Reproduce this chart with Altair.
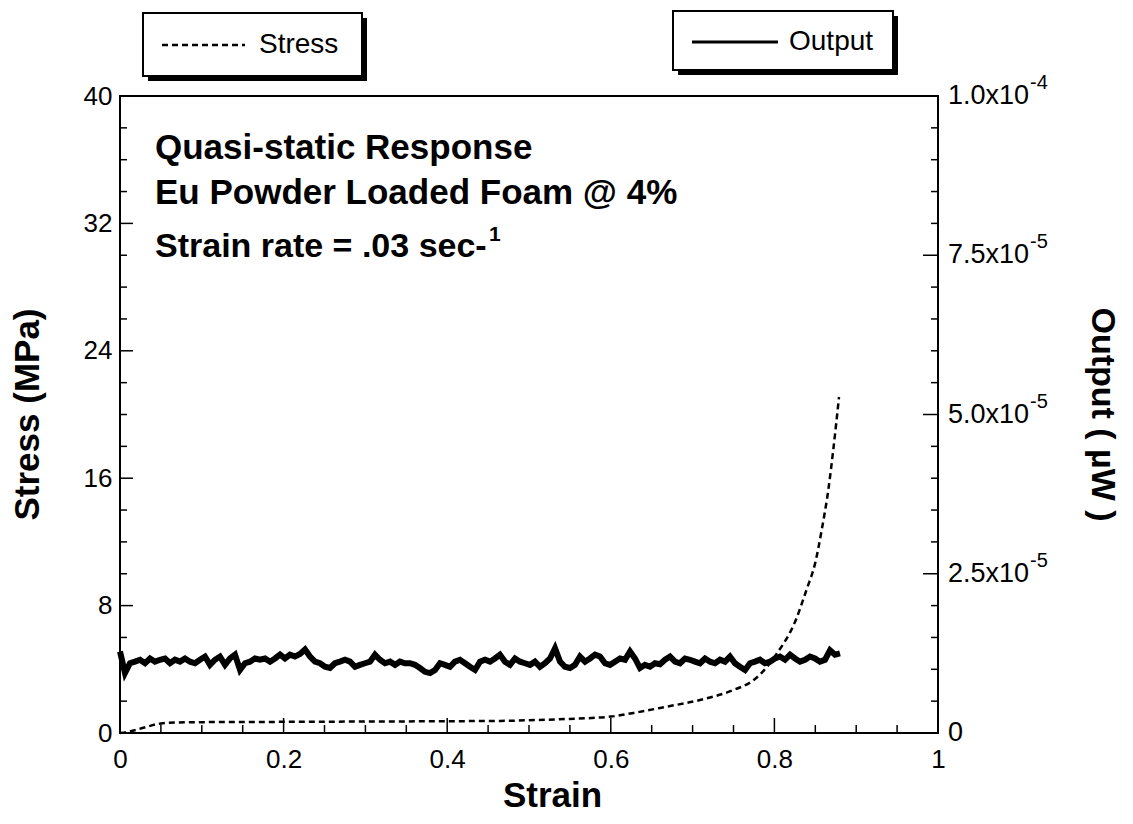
import altair as alt
import pandas as pd

# ---------------- data ----------------
# Output (µW) trace, values in units of 1e-6 µW
strain_out = [
    0.0000, 0.0061, 0.0122, 0.0183, 0.0245, 0.0306, 0.0367, 0.0428, 0.0489, 0.0550,
    0.0611, 0.0672, 0.0733, 0.0795, 0.0856, 0.0917, 0.0978, 0.1039, 0.1100, 0.1161,
    0.1222, 0.1284, 0.1345, 0.1406, 0.1467, 0.1528, 0.1589, 0.1650, 0.1711, 0.1773,
    0.1834, 0.1895, 0.1956, 0.2017, 0.2078, 0.2139, 0.2200, 0.2262, 0.2323, 0.2384,
    0.2445, 0.2506, 0.2567, 0.2628, 0.2689, 0.2751, 0.2812, 0.2873, 0.2934, 0.2995,
    0.3056, 0.3117, 0.3178, 0.3240, 0.3301, 0.3362, 0.3423, 0.3484, 0.3545, 0.3606,
    0.3667, 0.3729, 0.3790, 0.3851, 0.3912, 0.3973, 0.4034, 0.4095, 0.4156, 0.4218,
    0.4279, 0.4340, 0.4401, 0.4462, 0.4523, 0.4584, 0.4645, 0.4707, 0.4768, 0.4829,
    0.4890, 0.4951, 0.5012, 0.5073, 0.5134, 0.5196, 0.5257, 0.5318, 0.5379, 0.5440,
    0.5501, 0.5562, 0.5623, 0.5685, 0.5746, 0.5807, 0.5868, 0.5929, 0.5990, 0.6051,
    0.6112, 0.6174, 0.6235, 0.6296, 0.6357, 0.6418, 0.6479, 0.6540, 0.6601, 0.6663,
    0.6724, 0.6785, 0.6846, 0.6907, 0.6968, 0.7029, 0.7090, 0.7152, 0.7213, 0.7274,
    0.7335, 0.7396, 0.7457, 0.7518, 0.7579, 0.7641, 0.7702, 0.7763, 0.7824, 0.7885,
    0.7946, 0.8007, 0.8068, 0.8130, 0.8191, 0.8252, 0.8313, 0.8374, 0.8435, 0.8496,
    0.8557, 0.8619, 0.8680, 0.8741, 0.8802,
]
output_e6 = [
    12.8, 9.4, 10.95, 11.2, 11.5, 10.95, 11.7, 11.2, 11.5, 11.7,
    10.95, 11.5, 11.2, 11.7, 11.2, 10.95, 11.5, 12.0, 10.7, 11.5,
    12.0, 10.7, 11.7, 12.3, 9.9, 10.95, 11.2, 11.7, 11.5, 11.7,
    11.2, 11.7, 12.3, 11.7, 12.3, 12.0, 12.4,
    13.1, 12.0, 11.2, 10.95, 10.4, 10.2, 10.95, 11.2, 11.5, 11.2,
    10.4, 10.7, 10.95, 11.2, 12.3, 11.5, 10.95, 11.2, 10.7, 11.2,
    10.95, 10.95, 10.7, 10.2, 9.6, 9.4, 9.9, 10.95, 10.7, 10.4,
    11.2, 11.5, 10.95, 10.4, 9.9, 11.2,
    11.5, 11.2, 11.7, 12.3, 11.2, 10.7, 11.7, 11.2, 10.95, 10.7,
    11.2, 10.4, 10.95, 11.7, 13.3, 11.2, 10.4, 10.2, 10.7, 12.0,
    11.2, 11.7, 12.3, 12.0, 10.95, 10.7, 11.2, 11.7, 11.5, 12.8,
    11.7, 10.2, 10.7, 10.4, 10.95, 10.8,
    11.5, 12.0, 11.2, 10.95, 11.7, 11.5, 11.2, 10.95, 11.7, 11.2,
    10.95, 11.5, 11.2, 12.0, 10.95, 10.4, 9.9, 10.95, 11.2, 11.5,
    10.95, 11.2, 11.7, 12.0, 11.5, 12.3, 11.7, 11.2, 11.5, 12.0,
    11.7, 11.2, 11.5, 13.0, 12.3, 12.5,
]

# Stress (MPa) curve
strain_s = [0.0, 0.012, 0.03, 0.05, 0.07, 0.1, 0.2, 0.3, 0.4, 0.465, 0.5, 0.546,
            0.6, 0.628, 0.668, 0.709, 0.75, 0.774, 0.791, 0.803, 0.811, 0.819,
            0.827, 0.834, 0.84, 0.85, 0.858, 0.866, 0.872, 0.879]
stress_v = [0.0, 0.1, 0.35, 0.6, 0.66, 0.68, 0.7, 0.72, 0.74, 0.76, 0.8, 0.88,
            1.03, 1.26, 1.65, 2.07, 2.7, 3.3, 4.15, 5.0, 5.6, 6.3,
            7.2, 8.2, 9.1, 10.7, 12.8, 15.3, 17.8, 21.1]

# axis ticks / labels
x_labels = [0, 0.2, 0.4, 0.6, 0.8, 1]
x_major = [0.2, 0.4, 0.6, 0.8]
x_minor = [0.05, 0.1, 0.15, 0.25, 0.3, 0.35, 0.45, 0.5, 0.55, 0.65, 0.7, 0.75, 0.85, 0.9, 0.95]
left_labels = [0, 8, 16, 24, 32, 40]
left_major = [8, 16, 24, 32]
left_minor = [2, 4, 6, 10, 12, 14, 18, 20, 22, 26, 28, 30, 34, 36, 38]
right_vals = [0, 2.5e-5, 5.0e-5, 7.5e-5, 1.0e-4]
right_base = ["0", "2.5x10", "5.0x10", "7.5x10", "1.0x10"]
right_sup = ["", "-5", "-5", "-5", "-4"]
right_major = [2.5e-5, 5.0e-5, 7.5e-5]
right_minor = [5e-6, 1e-5, 1.5e-5, 2e-5, 3e-5, 3.5e-5, 4e-5, 4.5e-5,
               5.5e-5, 6e-5, 6.5e-5, 7e-5, 8e-5, 8.5e-5, 9e-5, 9.5e-5]

# ---------------- chart ----------------
W, H = 818, 637
FONT = "Liberation Sans"

xs = alt.Scale(domain=[0, 1], nice=False, zero=False)
ys = alt.Scale(domain=[0, 40], nice=False)
yo = alt.Scale(domain=[0, 1e-4], nice=False)

x_axis = alt.Axis(
    values=x_labels, format="~g", ticks=False, tickSize=0, domain=False, grid=False,
    labelFlush=False, labelOverlap=False,
    labelFont=FONT, labelFontSize=26, labelColor="black", labelPadding=13,
    title="Strain", titleFont=FONT, titleFontSize=35, titleFontWeight="bold",
    titleColor="black", titleX=432, titleY=73, titleAlign="center",
    titleBaseline="alphabetic")
y_axis = alt.Axis(
    orient="left", values=left_labels, ticks=False, tickSize=0, domain=False, grid=False,
    labelFlush=False, labelOverlap=False,
    labelFont=FONT, labelFontSize=26, labelColor="black", labelPadding=8,
    title="Stress (MPa)", titleFont=FONT, titleFontSize=35, titleFontWeight="bold",
    titleColor="black", titleX=-93, titleY=318, titleAngle=-90, titleAlign="center",
    titleBaseline="middle")

stress_df = pd.DataFrame({"strain": strain_s, "stress": stress_v})
out_df = pd.DataFrame({"strain": strain_out, "output": [v * 1e-6 for v in output_e6]})
one = pd.DataFrame({"a": [0]})

stress_line = alt.Chart(stress_df).mark_line(
    color="black", strokeWidth=2.5, strokeDash=[6, 4], interpolate="monotone"
).encode(
    x=alt.X("strain:Q", scale=xs, axis=x_axis, title="Strain"),
    y=alt.Y("stress:Q", scale=ys, axis=y_axis, title="Stress (MPa)"),
)


def xticks(vals, length):
    return alt.Chart(pd.DataFrame({"v": vals})).mark_rule(color="black", strokeWidth=1.5).encode(
        x=alt.X("v:Q", scale=xs, axis=x_axis, title="Strain"),
        y=alt.value(H), y2=alt.value(H - length))


def lticks(vals, length):
    return alt.Chart(pd.DataFrame({"v": vals})).mark_rule(color="black", strokeWidth=1.5).encode(
        y=alt.Y("v:Q", scale=ys, axis=y_axis, title="Stress (MPa)"),
        x=alt.value(0), x2=alt.value(length))


def rticks(vals, length):
    return alt.Chart(pd.DataFrame({"v": vals})).mark_rule(color="black", strokeWidth=1.5).encode(
        y=alt.Y("v:Q", scale=yo, axis=None), x=alt.value(W - length), x2=alt.value(W))


def box(x1, x2, y1, y2, fill, stroke=False):
    if stroke:
        m = alt.Chart(one).mark_rect(fill=fill, stroke="black", strokeWidth=2)
    else:
        m = alt.Chart(one).mark_rect(fill=fill)
    return m.encode(x=alt.value(x1), x2=alt.value(x2), y=alt.value(y1), y2=alt.value(y2))


def txt(s, x, y, size, weight="normal", angle=0, align="left"):
    if angle:
        m = alt.Chart(one).mark_text(text=s, font=FONT, fontSize=size, fontWeight=weight,
                                     color="black", align=align, baseline="middle", angle=angle)
    else:
        m = alt.Chart(one).mark_text(text=s, font=FONT, fontSize=size, fontWeight=weight,
                                     color="black", align=align, baseline="middle")
    return m.encode(x=alt.value(x), y=alt.value(y))


# legends (drawn above the plot area)
stress_legend = alt.layer(
    box(28, 247, -78, -15, "black"),
    box(23, 242, -83, -20, "white", stroke=True),
    alt.Chart(one).mark_rule(color="black", strokeWidth=2.5, strokeDash=[6, 4]).encode(
        x=alt.value(42), x2=alt.value(125), y=alt.value(-51)),
    txt("Stress", 139, -51, 28),
)
output_legend = alt.layer(
    box(558, 778, -80, -21, "black"),
    box(553, 773, -85, -26, "white", stroke=True),
    alt.Chart(one).mark_rule(color="black", strokeWidth=3).encode(
        x=alt.value(572), x2=alt.value(658), y=alt.value(-54)),
    txt("Output", 669, -54, 28),
)

annot = alt.layer(
    txt("Quasi-static Response", 35, 52, 35, "bold"),
    txt("Eu Powder Loaded Foam @ 4%", 35, 97, 35, "bold"),
    txt("Strain rate = .03 sec-", 35, 151, 34, "bold"),
    txt("1", 369, 139, 21, "bold"),
)

stress_group = alt.layer(
    stress_line,
    xticks(x_major, 15), xticks(x_minor, 8),
    lticks(left_major, 13), lticks(left_minor, 7),
    annot, stress_legend, output_legend,
)

output_line = alt.Chart(out_df).mark_line(color="black", strokeWidth=6).encode(
    x=alt.X("strain:Q", scale=xs, axis=x_axis, title="Strain"),
    y=alt.Y("output:Q", scale=yo, axis=None),
)

rlab_df = pd.DataFrame({"v": right_vals, "base": right_base, "sup": right_sup})
rlab = alt.Chart(rlab_df).mark_text(font=FONT, fontSize=27, color="black",
                                    align="left", baseline="middle").encode(
    x=alt.value(W + 10), y=alt.Y("v:Q", scale=yo, axis=None), text="base:N")
rsup = alt.Chart(rlab_df).mark_text(font=FONT, fontSize=20, color="black",
                                    align="left", baseline="middle", dy=-13).encode(
    x=alt.value(W + 10 + 82), y=alt.Y("v:Q", scale=yo, axis=None), text="sup:N")

output_group = alt.layer(
    output_line,
    rticks(right_major, 15), rticks(right_minor, 7),
    rlab, rsup,
    txt("Output ( µW )", 982, H / 2, 34, "bold", angle=90, align="center"),
)

chart = alt.layer(stress_group, output_group).resolve_scale(y="independent").properties(
    width=W, height=H,
    autosize=alt.AutoSizeParams(type="none"),
    padding={"left": 112, "top": 88, "right": 187, "bottom": 83},
).configure_view(stroke="black", strokeWidth=2)

chart.save("out.html", embed_options={"renderer": "svg", "actions": False})
